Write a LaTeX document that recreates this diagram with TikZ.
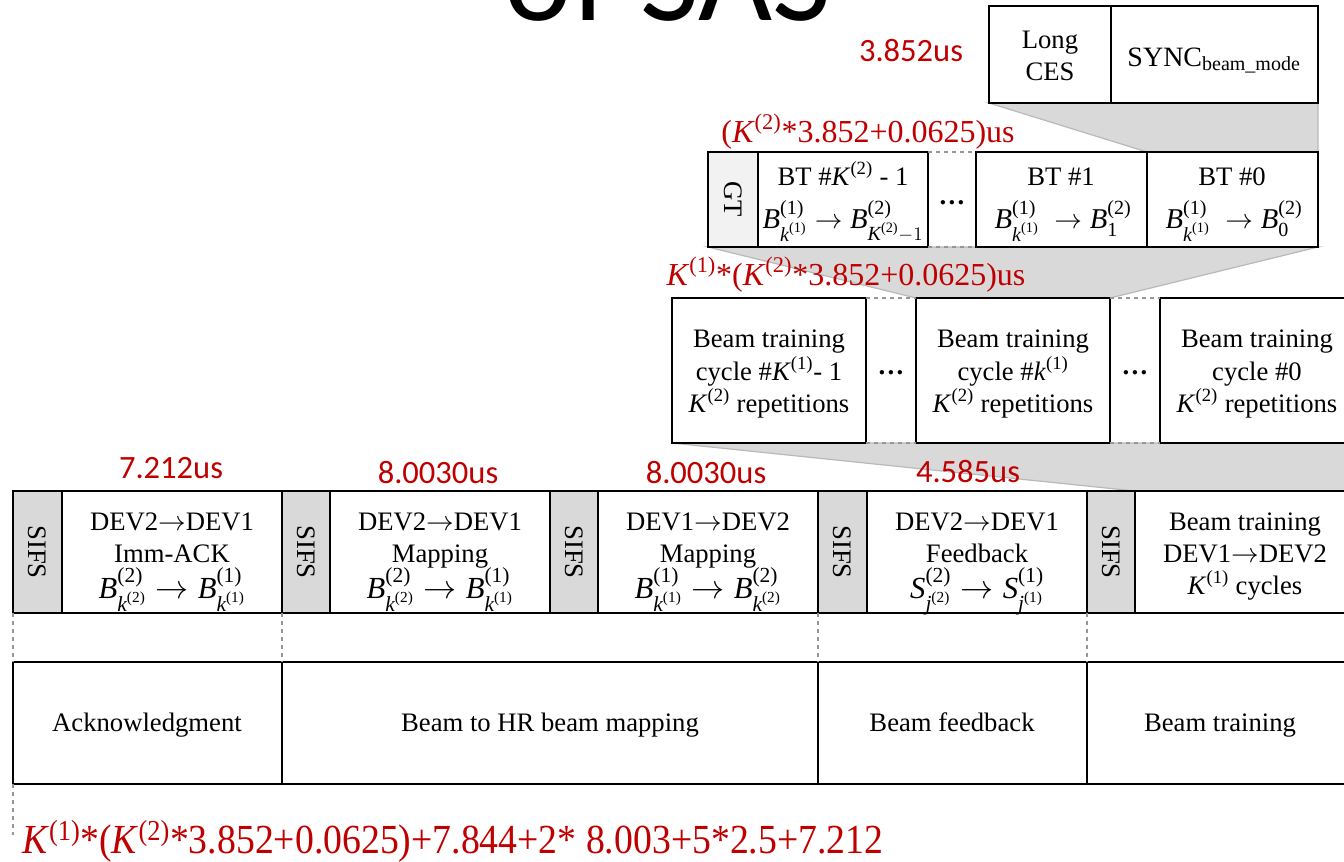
\documentclass[tikz,border=0pt]{standalone}
\usepackage{fontspec}
\usepackage{amsmath}
\setmainfont{Liberation Serif}
\newfontfamily\sanslab{Carlito}
\usetikzlibrary{backgrounds}
\definecolor{myred}{RGB}{192,0,0}
\definecolor{sifsgray}{RGB}{217,217,217}
\definecolor{gtgray}{RGB}{242,242,242}
\definecolor{dashgray}{RGB}{150,150,150}
\definecolor{edgegray}{RGB}{185,185,185}
\newcommand\boxnode[6]{%
  \pgfmathsetmacro\bxw{(#4-#2)*0.75}%
  \pgfmathsetmacro\bxh{(#5-#3)*0.75}%
  \node[#6,minimum width=\bxw pt,minimum height=\bxh pt] (#1) at ({(#2+#4)/2},{(#3+#5)/2}) {};}
\newcommand\Bm[3]{\textit{#1}^{\text{(#2)}}_{#3}}
\newcommand\kk[2]{\textit{#1}^{\text{(#2)}}}
\newcommand\Kt[1]{\textit{K}\textsuperscript{(#1)}}
\begin{document}
\begin{tikzpicture}[x=0.75pt,y=-0.75pt,
  box/.style={draw=black,line width=1.1pt,fill=white,rectangle,inner sep=0pt,outer sep=0pt},
  sifs/.style={box,fill=sifsgray},
  gtbox/.style={box,fill=gtgray},
  txt/.style={font=\fontsize{20}{24}\selectfont,anchor=base,inner sep=0pt},
  fml/.style={font=\fontsize{23}{27}\selectfont,anchor=base,inner sep=0pt},
  gfml/.style={font=\fontsize{21.5}{25}\selectfont,anchor=base,inner sep=0pt},
  dotsn/.style={font=\fontsize{20}{24}\selectfont\bfseries,anchor=base,inner sep=0pt},
  vtxt/.style={font=\fontsize{20}{24}\selectfont,rotate=-90,anchor=center,inner sep=0pt},
  redsans/.style={font=\sanslab\fontsize{24.4}{28}\selectfont,text=myred,anchor=base,inner sep=0pt},
  redserif/.style={font=\fontsize{24}{28}\selectfont,text=myred,anchor=base,inner sep=0pt},
  dashln/.style={draw=dashgray,dashed,line width=0.9pt},
  zoomfill/.style={fill=sifsgray,draw=edgegray,line width=0.9pt}]
\useasboundingbox (0,0) rectangle (1344,861);
\clip (0,0) rectangle (1344,861);

% title (cut off at top)
\node[font=\sanslab\fontsize{96}{100}\selectfont,anchor=base,inner sep=0pt] (title) at (668,20) {of SAS};

% top box
\boxnode{ces}{989}{6}{1111}{103}{box}
\boxnode{sync}{1111}{6}{1318}{103}{box}
% GT row
\boxnode{gt}{708}{152}{758}{247}{gtbox}
\boxnode{btk}{758}{152}{928}{247}{box}
\boxnode{btone}{976}{152}{1147}{247}{box}
\boxnode{btzero}{1147}{152}{1318}{247}{box}
% cycle row
\boxnode{cyk}{672}{298}{866}{443}{box}
\boxnode{cyx}{916}{298}{1110}{443}{box}
\boxnode{cyz}{1160}{298}{1354}{443}{box}
% main row
\boxnode{sa}{13}{491}{62}{613}{sifs}
\boxnode{ba}{62}{491}{282}{613}{box}
\boxnode{sb}{282}{491}{330}{613}{sifs}
\boxnode{bb}{330}{491}{550}{613}{box}
\boxnode{sc}{550}{491}{598}{613}{sifs}
\boxnode{bc}{598}{491}{818}{613}{box}
\boxnode{sd}{818}{491}{867}{613}{sifs}
\boxnode{bd}{867}{491}{1087}{613}{box}
\boxnode{se}{1087}{491}{1135}{613}{sifs}
\boxnode{be}{1135}{491}{1356}{613}{box}
% bottom row
\boxnode{ack}{13}{662}{282}{784}{box}
\boxnode{map}{282}{662}{818}{784}{box}
\boxnode{fb}{818}{662}{1087}{784}{box}
\boxnode{trn}{1087}{662}{1356}{784}{box}

% zoom trapezoids
\begin{scope}[on background layer]
\draw[zoomfill] (ces.south west) -- (sync.south east) -- (btzero.north east) -- (btzero.north west) -- cycle;
\draw[zoomfill] (gt.south west) -- (btzero.south east) -- (cyx.north east) -- (cyx.north west) -- cycle;
\draw[zoomfill] (cyk.south west) -- ++(700,0) -- ++(0,48) -- (be.north west) -- cycle;
\end{scope}

% dashed gaps
\draw[dashln] (btk.north east) -- (btone.north west);
\draw[dashln] (btk.south east) -- (btone.south west);
\draw[dashln] (cyk.north east) -- (cyx.north west);
\draw[dashln] (cyk.south east) -- (cyx.south west);
\draw[dashln] (cyx.north east) -- (cyz.north west);
\draw[dashln] (cyx.south east) -- (cyz.south west);
% dashed verticals
\coordinate (endc) at (13,835);
\draw[dashln] (sa.south west) -- (ack.north west);
\draw[dashln] (ba.south east) -- (map.north west);
\draw[dashln] (bc.south east) -- (fb.north west);
\draw[dashln] (bd.south east) -- (trn.north west);
\draw[dashln] (ack.south west) -- (endc);

% top box text
\node[txt] (t1) at (1050,48) {Long};
\node[txt] (t2) at (1050,80) {CES};
\node[txt,font=\fontsize{21}{24}\selectfont] (t3) at (1214,66) {SYNC$_{\text{\fontsize{15}{17}\selectfont beam\_mode}}$};

% GT row text
\node[vtxt] (gtt) at (gt) {GT};
\node[txt] (g1) at (843,185) {BT \#\Kt{2} - 1};
\node[gfml] (g2) at (843,228) {$\Bm{B}{1}{\kk{k}{1}}\rightarrow\Bm{B}{2}{\kk{K}{2}-1}$};
\node[txt] (g3) at (1061,185) {BT \#1};
\node[gfml] (g4) at (1063,228) {$\Bm{B}{1}{\kk{k}{1}}\;\rightarrow\Bm{B}{2}{\text{1}}$};
\node[txt] (g5) at (1232,185) {BT \#0};
\node[gfml] (g6) at (1234,228) {$\Bm{B}{1}{\kk{k}{1}}\;\rightarrow\Bm{B}{2}{\text{0}}$};
\node[dotsn] (gd) at (952,204) {…};

% cycle row text
\node[txt] (c1) at (769,347) {Beam training};
\node[txt] (c2) at (769,380) {cycle \#\Kt{1}- 1};
\node[txt] (c3) at (769,412) {\Kt{2} repetitions};
\node[txt] (c4) at (1013,347) {Beam training};
\node[txt] (c5) at (1013,380) {cycle \#\textit{k}\textsuperscript{(1)}};
\node[txt] (c6) at (1013,412) {\Kt{2} repetitions};
\node[txt] (c7) at (1257,347) {Beam training};
\node[txt] (c8) at (1257,380) {cycle \#0};
\node[txt] (c9) at (1257,412) {\Kt{2} repetitions};
\node[dotsn] (cd1) at (891,374) {…};
\node[dotsn] (cd2) at (1135,374) {…};

% main row text
\foreach \s/\n in {sa/a,sb/b,sc/c,sd/d,se/e} \node[vtxt] (sifs\n) at (\s) {SIFS};
\node[txt] (m1) at (172,530) {DEV2$\rightarrow$DEV1};
\node[txt] (m2) at (172,562) {Imm-ACK};
\node[fml] (m3) at (172,598) {$\Bm{B}{2}{\kk{k}{2}}\rightarrow\Bm{B}{1}{\kk{k}{1}}$};
\node[txt] (m4) at (440,530) {DEV2$\rightarrow$DEV1};
\node[txt] (m5) at (440,562) {Mapping};
\node[fml] (m6) at (440,598) {$\Bm{B}{2}{\kk{k}{2}}\rightarrow\Bm{B}{1}{\kk{k}{1}}$};
\node[txt] (m7) at (708,530) {DEV1$\rightarrow$DEV2};
\node[txt] (m8) at (708,562) {Mapping};
\node[fml] (m9) at (708,598) {$\Bm{B}{1}{\kk{k}{1}}\rightarrow\Bm{B}{2}{\kk{k}{2}}$};
\node[txt] (m10) at (977,530) {DEV2$\rightarrow$DEV1};
\node[txt] (m11) at (977,562) {Feedback};
\node[fml] (m12) at (977,598) {$\Bm{S}{2}{\kk{j}{2}}\rightarrow\Bm{S}{1}{\kk{j}{1}}$};
\node[txt] (m13) at (1245,530) {Beam training};
\node[txt] (m14) at (1245,562) {DEV1$\rightarrow$DEV2};
\node[txt] (m15) at (1245,594) {\Kt{1} cycles};

% bottom row text
\node[txt] (l1) at (147,731) {Acknowledgment};
\node[txt] (l2) at (550,731) {Beam to HR beam mapping};
\node[txt] (l3) at (952,731) {Beam feedback};
\node[txt] (l4) at (1220,731) {Beam training};

% red labels
\node[redsans] (r1) at (911,61) {3.852us};
\node[redserif] (r2) at (868,142) {(\Kt{2}*3.852+0.0625)us};
\node[redserif] (r3) at (846,285) {\Kt{1}*(\Kt{2}*3.852+0.0625)us};
\node[redsans] (r4) at (171,478) {7.212us};
\node[redsans] (r5) at (438,483) {8.0030us};
\node[redsans] (r6) at (706,483) {8.0030us};
\node[redsans] (r7) at (968,482) {4.585us};
\node[redserif,anchor=base west,font=\fontsize{31}{35}\selectfont] (r8) at (22,853)
  {\scalebox{0.913}[1]{\Kt{1}*(\Kt{2}*3.852+0.0625)+7.844+2* 8.003+5*2.5+7.212}};
\end{tikzpicture}
\end{document}
